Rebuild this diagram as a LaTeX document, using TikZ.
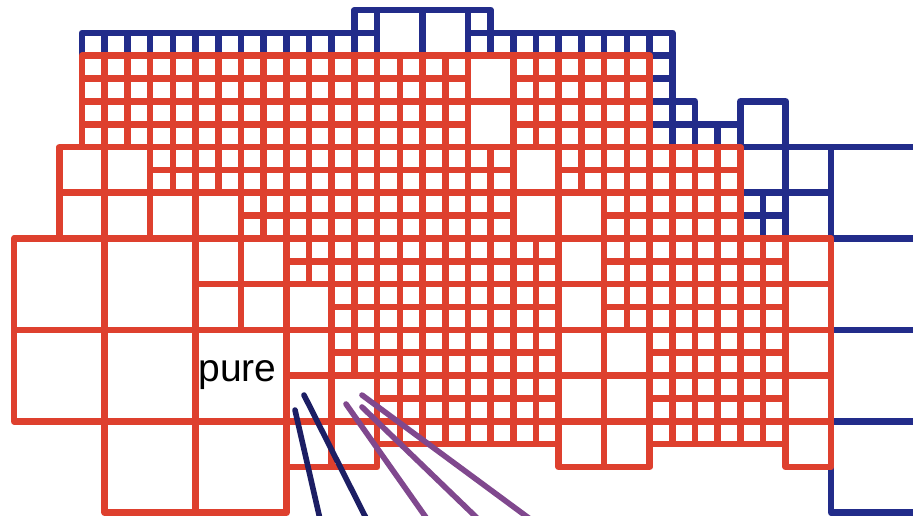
\documentclass[tikz,border=0pt]{standalone}
\usepackage{fontspec}
\setmainfont{Liberation Sans}
\definecolor{redc}{RGB}{222,64,46}
\definecolor{bluec}{RGB}{34,44,138}
\definecolor{navyc}{RGB}{28,30,100}
\definecolor{purc}{RGB}{128,72,142}
\newcommand\rgrid[4]{\foreach \i in {#1,...,#2}{\foreach \j in {#3,...,#4}{\draw[rc] (\i,\j) rectangle ++(1,1);}}}
\newcommand\bgrid[4]{\foreach \i in {#1,...,#2}{\foreach \j in {#3,...,#4}{\draw[bc] (\i,\j) rectangle ++(1,1);}}}
\newcommand\rbox[3]{\draw[rc] (#1,#2) rectangle ++(#3,#3);}
\newcommand\bbox[3]{\draw[bc] (#1,#2) rectangle ++(#3,#3);}
\begin{document}
\begin{tikzpicture}[x=22.7pt,y=-22.85pt,line join=round,
  rc/.style={draw=redc,line width=6.6pt},
  bc/.style={draw=bluec,line width=6.6pt},
  diag/.style={line width=5.6pt,line cap=round}]
\useasboundingbox (-3.6167,-1.4376) rectangle (36.604,21.144);
\clip (-3.6167,-1.4376) rectangle (36.604,21.144);
% ---------- blue cells ----------
\bgrid{0}{11}{0}{0}
\bgrid{12}{12}{-1}{0}
\bbox{13}{-1}{2}\bbox{15}{-1}{2}
\bgrid{17}{17}{-1}{0}
\bgrid{18}{25}{0}{0}
\bgrid{25}{25}{1}{4}
\bgrid{26}{26}{3}{4}
\bgrid{27}{28}{4}{4}
\bbox{29}{3}{2}\bbox{29}{5}{2}\bbox{31}{5}{2}
\bgrid{29}{30}{7}{8}
\bbox{31}{7}{2}
\bbox{33}{5}{4}\bbox{33}{9}{4}\bbox{33}{13}{4}\bbox{33}{17}{4}
% ---------- red cells ----------
% rows 1-4
\rgrid{0}{16}{1}{4}
\rgrid{19}{24}{1}{4}
\rbox{17}{1}{2}\rbox{17}{3}{2}
% rows 5-6
\rbox{-1}{5}{2}\rbox{1}{5}{2}
\rgrid{3}{18}{5}{6}
\rbox{19}{5}{2}
\rgrid{21}{28}{5}{6}
% rows 7-8
\rbox{-1}{7}{2}\rbox{1}{7}{2}\rbox{3}{7}{2}\rbox{5}{7}{2}
\rgrid{7}{18}{7}{8}
\rbox{19}{7}{2}\rbox{21}{7}{2}
\rgrid{23}{28}{7}{8}
% rows 9-12
\rbox{-3}{9}{4}\rbox{1}{9}{4}
\rbox{5}{9}{2}\rbox{7}{9}{2}\rbox{5}{11}{2}\rbox{7}{11}{2}
\rgrid{9}{10}{9}{10}
\rbox{9}{11}{2}
\rgrid{11}{20}{9}{12}
\rbox{21}{9}{2}\rbox{21}{11}{2}
\rgrid{23}{30}{9}{12}
\rbox{31}{9}{2}\rbox{31}{11}{2}
% rows 13-16
\rbox{-3}{13}{4}\rbox{1}{13}{4}\rbox{5}{13}{4}
\rbox{9}{13}{2}\rbox{9}{15}{2}
\rgrid{11}{12}{13}{14}
\rbox{11}{15}{2}
\rgrid{13}{20}{13}{16}
\rbox{21}{13}{2}\rbox{21}{15}{2}
\rbox{23}{13}{2}\rbox{23}{15}{2}
\rgrid{25}{30}{13}{16}
\rbox{31}{13}{2}\rbox{31}{15}{2}
% rows 17-20
\rbox{1}{17}{4}\rbox{5}{17}{4}
\rbox{9}{17}{2}\rbox{11}{17}{2}
\rgrid{13}{20}{17}{17}
\rbox{21}{17}{2}\rbox{23}{17}{2}
\rgrid{25}{30}{17}{17}
\rbox{31}{17}{2}
% ---------- label ----------
\node (pure) at (6.84,15.24) [anchor=base,inner sep=0pt,font=\fontsize{39}{44}\selectfont] {pure};
% ---------- diagonal lines ----------
\coordinate (b1s) at (9.379,16.506); \coordinate (b1e) at (10.531,21.5);
\coordinate (b2s) at (9.775,15.851); \coordinate (b2e) at (12.643,21.5);
\coordinate (p1s) at (11.626,16.243); \coordinate (p1e) at (15.358,21.5);
\coordinate (p2s) at (12.330,16.374); \coordinate (p2e) at (17.678,21.5);
\coordinate (p3s) at (12.330,15.851); \coordinate (p3e) at (20.040,21.5);
\draw[diag,navyc] (b1s) -- (b1e);
\draw[diag,navyc] (b2s) -- (b2e);
\draw[diag,purc] (p1s) -- (p1e);
\draw[diag,purc] (p2s) -- (p2e);
\draw[diag,purc] (p3s) -- (p3e);
\end{tikzpicture}
\end{document}
